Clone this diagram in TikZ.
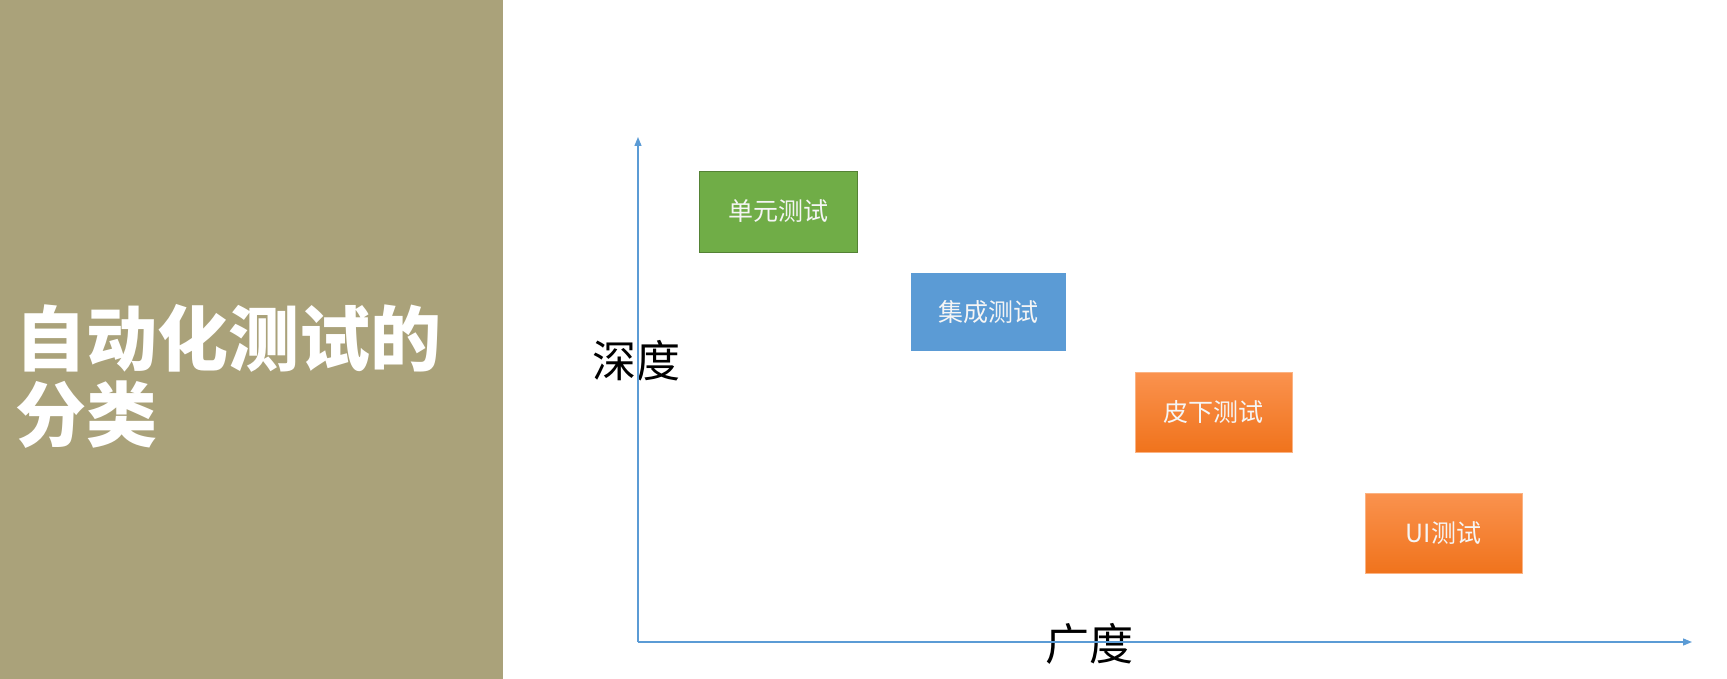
\documentclass[tikz,border=0pt]{standalone}
\usepackage{fontspec}
\newfontfamily\cjk{Noto Sans CJK SC}
\usetikzlibrary{arrows.meta}
\definecolor{panel}{RGB}{170,162,122}
\definecolor{axisblue}{RGB}{91,155,213}
\definecolor{boxgreen}{RGB}{112,173,71}
\definecolor{greenborder}{RGB}{84,130,53}
\definecolor{boxblue}{RGB}{91,155,213}
\definecolor{orangetop}{RGB}{250,146,78}
\definecolor{orangebot}{RGB}{240,115,28}
\definecolor{labelwhite}{RGB}{245,245,245}
\tikzset{
  testbox/.style={minimum width=157pt,minimum height=80pt,inner sep=0pt,text=labelwhite,
    font=\cjk\fontsize{25}{30}\selectfont},
  orangebox/.style={testbox,top color=orangetop,bottom color=orangebot,draw=orangetop!70!white,line width=0.8pt},
  axisline/.style={draw=axisblue,line width=1.3pt,-{Triangle[length=9pt,width=7pt]}},
  axislabel/.style={inner sep=0pt,text=black,font=\cjk\fontsize{44}{50}\selectfont},
  titletext/.style={inner sep=0pt,text=white,font=\cjk\bfseries\fontsize{71}{78}\selectfont}
}
\begin{document}
\begin{tikzpicture}[x=1pt,y=-1pt]
\useasboundingbox (0,0) rectangle (1727,679);
\fill[white] (0,0) rectangle (1727,679);
\fill[panel] (0,0) rectangle (503,679);
\node[titletext,anchor=base west] (title1) at (15,365) {自动化测试的};
\node[titletext,anchor=base west] (title2) at (15,441) {分类};
% labels
\node[axislabel] (ydepth) at (636,361) {深度};
\node[axislabel] (xwidth) at (1089,644) {广度};
% axes
\coordinate (origin) at (638,642);
\coordinate (ytop) at (638,137);
\coordinate (xend) at (1692,642);
\draw[axisline] (origin) -- (ytop);
\draw[axisline] (origin) -- (xend);
% boxes
\node[testbox,fill=boxgreen,draw=greenborder,line width=0.8pt,minimum width=158pt,minimum height=81pt] (unit) at (778,211.5) {单元测试};
\node[testbox,fill=boxblue,minimum width=155pt,minimum height=78pt] (integ) at (988.5,312) {集成测试};
\node[orangebox] (subcut) at (1213.5,412.5) {皮下测试};
\node[orangebox] (ui) at (1443.5,533.5) {UI测试};
\end{tikzpicture}
\end{document}
